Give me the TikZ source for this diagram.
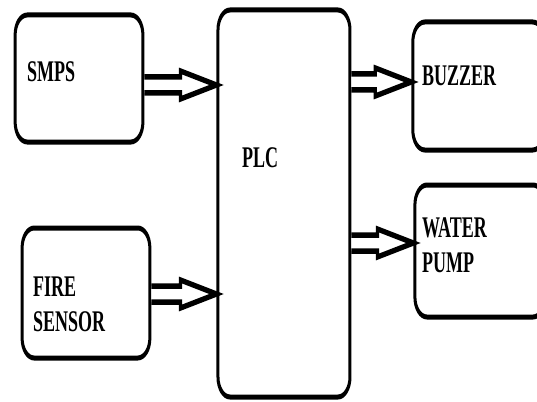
\documentclass[tikz,border=0pt]{standalone}
\usepackage{fontspec}
\setmainfont{Liberation Serif}
\usetikzlibrary{calc}
\tikzset{
  box/.style={draw=black, line width=5pt, rounded corners=20pt, fill=white, inner sep=0pt},
  lbl/.style={inner sep=0pt, align=left, font=\bfseries\fontsize{30}{35}\selectfont, text=black},
  harr/.style={draw=black, line width=5.5pt, fill=white, line join=miter}
}
\newcommand\hollowarrow[3]{%
  \draw[harr] let \p1=($(#1.east |- 0,#3)$), \p2=($(#2.west |- 0,#3)$) in
    (\x1,\y1+8pt) -- (\x2-60pt,\y1+8pt) -- (\x2-60pt,\y1+14pt) -- (\x2,\y2)
    -- (\x2-60pt,\y1-14pt) -- (\x2-60pt,\y1-8pt) -- (\x1,\y1-8pt);}
\begin{document}
\begin{tikzpicture}[x=1pt,y=-1pt]
\useasboundingbox (0,0) rectangle (537,401);
\fill[white] (0,0) rectangle (537,401);
\begin{scope}[transform canvas={xscale=0.6}]
\clip (0,0) rectangle (895,401);
\node[box, minimum width=213pt, minimum height=127pt] (smps) at (131.7,78.5) {};
\node[box, minimum width=220pt, minimum height=387pt] (plc) at (473.3,203.5) {};
\node[box, minimum width=213pt, minimum height=130pt] (fire) at (143.3,293) {};
\node[box, minimum width=220pt, minimum height=128pt] (buzz) at (798,86) {};
\node[box, minimum width=217pt, minimum height=132pt] (pump) at (800,251) {};
\node[lbl, anchor=base west] (tsmps) at (45,82) {SMPS};
\node[lbl, anchor=base west] (tplc) at (403.3,167) {PLC};
\node[lbl, anchor=base west] (tbuzz) at (703.3,86) {BUZZER};
\node[lbl, anchor=north west] (tpump) at (703.3,217) {WATER\\PUMP};
\node[lbl, anchor=north west] (tfire) at (55,277) {FIRE\\SENSOR};
\hollowarrow{smps}{plc}{85}
\hollowarrow{fire}{plc}{294}
\hollowarrow{plc}{buzz}{82}
\hollowarrow{plc}{pump}{243}
\end{scope}
\end{tikzpicture}
\end{document}
